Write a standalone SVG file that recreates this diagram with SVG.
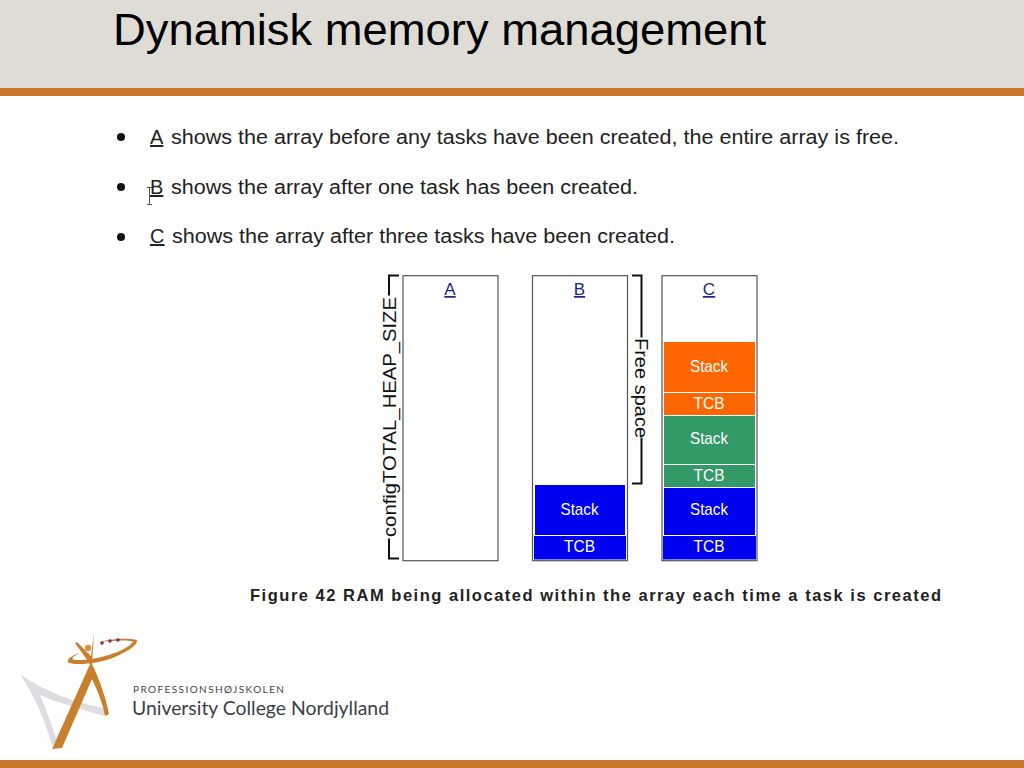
<svg xmlns="http://www.w3.org/2000/svg" width="1024" height="768" viewBox="0 0 1024 768">
<style>
text{font-family:"Liberation Sans",Arial,sans-serif}
.bul{font-size:20px;fill:#222}
.box{fill:#fff;stroke:#555;stroke-width:1.2}
.lbl{font-size:17px;fill:#fff;text-anchor:middle}
.hd{font-size:17px;fill:#22228a;text-anchor:middle;text-decoration:underline}
.blue{fill:#0000f0}.green{fill:#339966}.orange{fill:#ff6600}
.br{fill:none;stroke:#111;stroke-width:2}
.side{font-size:18px;fill:#111}
.leg{fill:#c8802f}
</style>
<rect width="1024" height="768" fill="#fff"/>
<g id="header">
<rect x="0" y="0" width="1024" height="88" fill="#dfdcd6"/>
<rect x="0" y="88" width="1024" height="8" fill="#c7762a"/>
<text x="113" y="45" font-size="44" fill="#000" textLength="653" lengthAdjust="spacingAndGlyphs">Dynamisk memory management</text>
</g>
<g id="bullets">
<circle cx="121" cy="137" r="4" fill="#111"/>
<circle cx="121" cy="187" r="4" fill="#111"/>
<circle cx="121" cy="237" r="4" fill="#111"/>
<text class="bul" x="150" y="144" text-decoration="underline">A</text>
<text class="bul" x="171" y="144" textLength="728" lengthAdjust="spacingAndGlyphs">shows the array before any tasks have been created, the entire array is free.</text>
<text class="bul" x="150" y="194" text-decoration="underline">B</text>
<text class="bul" x="171" y="194" textLength="467" lengthAdjust="spacingAndGlyphs">shows the array after one task has been created.</text>
<text class="bul" x="150" y="243" text-decoration="underline">C</text>
<text class="bul" x="172" y="243" textLength="503" lengthAdjust="spacingAndGlyphs">shows the array after three tasks have been created.</text>
<path d="M147 187.500h5M147 204.500h5M149.500 188v16" fill="none" stroke="#555" stroke-width="1"/>
</g>
<g id="array-a">
<rect class="box" x="403" y="275.700" width="95" height="285"/>
<text class="hd" x="450" y="295">A</text>
</g>
<g id="array-b">
<rect class="box" x="532.500" y="275.700" width="95" height="285"/>
<text class="hd" x="579.500" y="295">B</text>
<rect class="blue" x="535" y="485" width="90" height="50"/>
<rect class="blue" x="534" y="536" width="92" height="23.500"/>
<text class="lbl" x="579.500" y="515" textLength="38" lengthAdjust="spacingAndGlyphs">Stack</text>
<text class="lbl" x="579.500" y="552" textLength="31" lengthAdjust="spacingAndGlyphs">TCB</text>
</g>
<g id="array-c">
<rect class="box" x="662" y="275.700" width="95" height="285"/>
<text class="hd" x="709" y="295">C</text>
<rect class="orange" x="664" y="342" width="91" height="50"/>
<rect class="orange" x="664" y="393" width="91" height="22"/>
<rect class="green" x="664" y="416" width="91" height="48"/>
<rect class="green" x="664" y="465" width="91" height="22"/>
<rect class="blue" x="664" y="488" width="91" height="47"/>
<rect class="blue" x="663" y="536" width="93" height="23.500"/>
<text class="lbl" x="709" y="372" textLength="38" lengthAdjust="spacingAndGlyphs">Stack</text>
<text class="lbl" x="709" y="409" textLength="31" lengthAdjust="spacingAndGlyphs">TCB</text>
<text class="lbl" x="709" y="444" textLength="38" lengthAdjust="spacingAndGlyphs">Stack</text>
<text class="lbl" x="709" y="481" textLength="31" lengthAdjust="spacingAndGlyphs">TCB</text>
<text class="lbl" x="709" y="515" textLength="38" lengthAdjust="spacingAndGlyphs">Stack</text>
<text class="lbl" x="709" y="552" textLength="31" lengthAdjust="spacingAndGlyphs">TCB</text>
</g>
<g id="connectors">
<path class="br" d="M399 275.500h-10v20M399 558.500h-10v-20"/>
<path class="br" d="M632 275.500h9.500v62M632 483.500h9.500v-46"/>
</g>
<g id="side-labels">
<text class="side" transform="translate(396,537) rotate(-90)" textLength="240" lengthAdjust="spacingAndGlyphs">configTOTAL_HEAP_SIZE</text>
<text class="side" transform="translate(635,338) rotate(90)" textLength="100" lengthAdjust="spacingAndGlyphs">Free space</text>
</g>
<text x="250" y="601" font-size="16.500" font-weight="bold" fill="#222" textLength="691" lengthAdjust="spacing">Figure 42 RAM being allocated within the array each time a task is created</text>
<g id="logo">
<path d="M20 674C45 692 75 703 109 709L104 716C82 709 58 703 40 695C47 712 54 730 57 742L52 745C45 720 34 695 20 674Z" fill="#dcdde0"/>
<path class="leg" d="M91 662L52 749L62 748L92 679C98 692 103 704 105 716L109 714C105 695 99 678 91 662Z"/>
<path class="leg" d="M94 632L92 664L90 664L75 643L77 642L91 656Z"/>
<circle cx="88" cy="648" r="3.200" fill="#d9923f"/>
<path class="leg" d="M137 640C125 637 105 640 100 642C120 640 130 640 133 642C125 652 95 661 75 660C70 659 73 656 80 653C72 655 67 659 68 662C72 666 100 664 115 657C128 651 138 645 137 640Z"/>
<circle cx="102" cy="643" r="1.800" fill="#8c2a4a"/><circle cx="110" cy="641" r="1.800" fill="#8c2a4a"/><circle cx="118" cy="640" r="1.800" fill="#8c2a4a"/>
<text x="133" y="693" font-size="10" fill="#444" textLength="151" lengthAdjust="spacing" style="font-family:Lato,sans-serif">PROFESSIONSHØJSKOLEN</text>
<text x="132" y="715" font-size="19" fill="#3b3f45" textLength="257" lengthAdjust="spacingAndGlyphs" style="font-family:Lato,sans-serif">University College Nordjylland</text>
</g>
<rect id="footer" x="0" y="760" width="1024" height="8" fill="#c7762a"/>
</svg>
